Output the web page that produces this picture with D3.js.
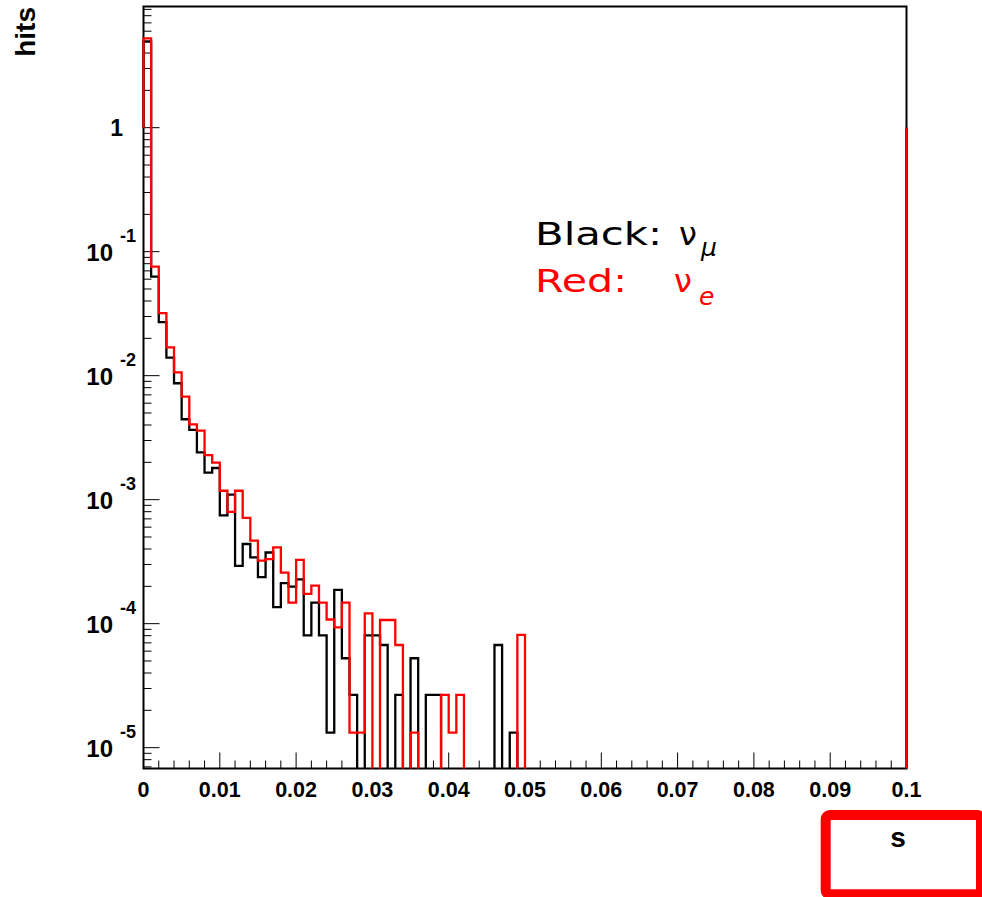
<!DOCTYPE html>
<html>
<head>
<meta charset="utf-8">
<title>hits vs s</title>
<script src="https://cdn.jsdelivr.net/npm/d3@7"></script>
<style>
  html, body { margin: 0; padding: 0; background: #fff; }
  svg { display: block; }
  .lbl { font-family: "Liberation Sans", Arial, sans-serif; font-weight: bold; fill: #000; }
  .legend { font-family: "DejaVu Sans", "Noto Sans", sans-serif; }
</style>
</head>
<body>
<div id="chart"></div>
<script>
// bin width 0.001, bins start at 0; bins after the last entry are empty
var BIN_WIDTH = 0.001;
var NUMU_HITS = [
  4.94, 0.0629, 0.0270, 0.01397, 0.00869, 0.00445, 0.00365, 0.00241, 0.00165, 0.00180,
  0.000746, 0.00110, 0.000292, 0.000439, 0.000343, 0.000237, 0.000375, 0.000136, 0.000212, 0.000199,
  0.000228, 0.0000803, 0.000148, 0.0000803, 0.0000132, 0.000187, 0.0000526, 0.0000266, 0, 0.0000803,
  0.0000803, 0.0000673, 0, 0.0000266, 0, 0.0000526, 0, 0.0000266, 0.0000266, 0,
  0, 0, 0, 0, 0, 0, 0.0000673, 0, 0.0000132, 0
];
var NUE_HITS = [
  5.26, 0.0757, 0.0319, 0.0169, 0.01065, 0.00677, 0.00405, 0.00360, 0.00229, 0.00199,
  0.00118, 0.000796, 0.00118, 0.000712, 0.000467, 0.000322, 0.000331, 0.000413, 0.000258, 0.000148,
  0.000327, 0.000174, 0.000203, 0.000148, 0.000108, 0.0000935, 0.000148, 0.0000132, 0.0000132, 0.000121,
  0, 0.000107, 0.000107, 0.0000673, 0, 0.0000132, 0, 0, 0, 0.0000266,
  0.0000132, 0.0000266, 0, 0, 0, 0, 0, 0, 0, 0.0000811
];
var X_TICK_LABELS = ["0", "0.01", "0.02", "0.03", "0.04", "0.05", "0.06", "0.07", "0.08", "0.09", "0.1"];
var Y_TICK_VALUES = [1, 1e-1, 1e-2, 1e-3, 1e-4, 1e-5];
var Y_TICK_EXPONENTS = ["", "-1", "-2", "-3", "-4", "-5"];

(function () {
  "use strict";

  var W = 982, H = 897;
  var L = 143.5, R = 906.5, T = 6.5, B = 768.5;
  var Y_MIN = 6.79e-6, Y_MAX = 9.49;

  var x = d3.scaleLinear().domain([0, 0.1]).range([L, R]);
  var y = d3.scaleLog().domain([Y_MIN, Y_MAX]).range([B, T]);

  var svg = d3.select("#chart").append("svg")
    .attr("width", W)
    .attr("height", H)
    .attr("viewBox", [0, 0, W, H]);

  svg.append("defs").append("clipPath").attr("id", "plot-clip")
    .append("rect")
    .attr("x", L - 2).attr("y", T)
    .attr("width", R - L + 4).attr("height", B - T);

  // ticks, bottom axis
  var xMinor = d3.range(0, 51).map(function (i) { return i * 0.002; });
  svg.append("g").selectAll("line")
    .data(xMinor)
    .join("line")
    .attr("x1", function (d) { return x(d); })
    .attr("x2", function (d) { return x(d); })
    .attr("y1", B)
    .attr("y2", function (d, i) { return i % 5 === 0 ? B - 16 : B - 8; })
    .attr("stroke", "#000")
    .attr("stroke-width", 1);

  // ticks, left axis (2..9 per decade, long at decades)
  var yTicks = y.ticks().filter(function (d) { return d >= Y_MIN && d <= Y_MAX; });
  svg.append("g").selectAll("line")
    .data(yTicks)
    .join("line")
    .attr("x1", L)
    .attr("x2", function (d) {
      var m = d / Math.pow(10, Math.floor(Math.log10(d) + 1e-9));
      return Math.abs(m - 1) < 1e-6 ? L + 16 : L + 8;
    })
    .attr("y1", function (d) { return y(d); })
    .attr("y2", function (d) { return y(d); })
    .attr("stroke", "#000")
    .attr("stroke-width", 1);

  // frame
  svg.append("rect")
    .attr("x", L).attr("y", T)
    .attr("width", R - L).attr("height", B - T)
    .attr("fill", "none")
    .attr("stroke", "#000")
    .attr("stroke-width", 2);

  function histPath(values) {
    var yOf = function (v) { return v > 0 ? y(v) : B + 10; };
    var p = d3.path();
    p.moveTo(x(0), y(1));
    p.lineTo(x(0), yOf(values[0]));
    for (var i = 0; i < values.length; i++) {
      var x1 = x((i + 1) * BIN_WIDTH);
      p.lineTo(x1, yOf(values[i]));
      if (i + 1 < values.length) p.lineTo(x1, yOf(values[i + 1]));
    }
    p.lineTo(x(values.length * BIN_WIDTH), B + 10);
    p.lineTo(x(0.1), B + 10);
    p.lineTo(x(0.1), y(1));
    return p.toString();
  }

  var hg = svg.append("g").attr("clip-path", "url(#plot-clip)");
  hg.append("path")
    .attr("d", histPath(NUMU_HITS))
    .attr("fill", "none")
    .attr("stroke", "#000")
    .attr("stroke-width", 2.3);
  hg.append("path")
    .attr("d", histPath(NUE_HITS))
    .attr("fill", "none")
    .attr("stroke", "#ff0000")
    .attr("stroke-width", 2.3);

  // x tick labels
  svg.append("g").selectAll("text")
    .data(X_TICK_LABELS)
    .join("text")
    .attr("class", "lbl")
    .attr("x", function (d) { return x(+d); })
    .attr("y", 796.5)
    .attr("text-anchor", "middle")
    .attr("font-size", 21.5)
    .text(function (d) { return d; });

  // y tick labels
  var yl = svg.append("g");
  Y_TICK_VALUES.forEach(function (v, i) {
    var ty = y(v);
    if (Y_TICK_EXPONENTS[i] === "") {
      yl.append("text").attr("class", "lbl")
        .attr("x", 123).attr("y", ty + 8)
        .attr("text-anchor", "end")
        .attr("font-size", 23)
        .text("1");
      return;
    }
    yl.append("text").attr("class", "lbl")
      .attr("x", 113).attr("y", ty + 9)
      .attr("text-anchor", "end")
      .attr("font-size", 24)
      .text("10");
    yl.append("text").attr("class", "lbl")
      .attr("x", 120).attr("y", ty - 10)
      .attr("font-size", 18)
      .text(Y_TICK_EXPONENTS[i]);
  });

  // axis titles
  svg.append("text").attr("class", "lbl")
    .attr("transform", "translate(35,7) rotate(-90)")
    .attr("text-anchor", "end")
    .attr("font-size", 28)
    .text("hits");
  svg.append("text").attr("class", "lbl")
    .attr("x", 898).attr("y", 847)
    .attr("text-anchor", "middle")
    .attr("font-size", 28)
    .text("s");

  // red box round the x title
  svg.append("rect")
    .attr("x", 825.7).attr("y", 815)
    .attr("width", 155.3).attr("height", 79.3)
    .attr("rx", 4)
    .attr("fill", "none")
    .attr("stroke", "#ff0000")
    .attr("stroke-width", 10);

  // legend text
  var lg = svg.append("g").attr("class", "legend");
  lg.append("text")
    .attr("x", 535).attr("y", 245)
    .attr("font-size", 32)
    .attr("fill", "#000")
    .attr("textLength", 127)
    .attr("lengthAdjust", "spacingAndGlyphs")
    .text("Black:");
  lg.append("text")
    .attr("x", 679).attr("y", 245)
    .attr("font-size", 32)
    .attr("fill", "#000")
    .text("\u03bd");
  lg.append("text")
    .attr("x", 701).attr("y", 256)
    .attr("font-size", 25)
    .attr("font-style", "italic")
    .attr("fill", "#000")
    .text("\u03bc");
  lg.append("text")
    .attr("x", 535).attr("y", 292)
    .attr("font-size", 32)
    .attr("fill", "#ff0000")
    .attr("textLength", 92)
    .attr("lengthAdjust", "spacingAndGlyphs")
    .text("Red:");
  lg.append("text")
    .attr("x", 674).attr("y", 292)
    .attr("font-size", 32)
    .attr("fill", "#ff0000")
    .text("\u03bd");
  lg.append("text")
    .attr("x", 699).attr("y", 305)
    .attr("font-size", 25)
    .attr("font-style", "italic")
    .attr("fill", "#ff0000")
    .text("e");
})();
</script>
</body>
</html>
